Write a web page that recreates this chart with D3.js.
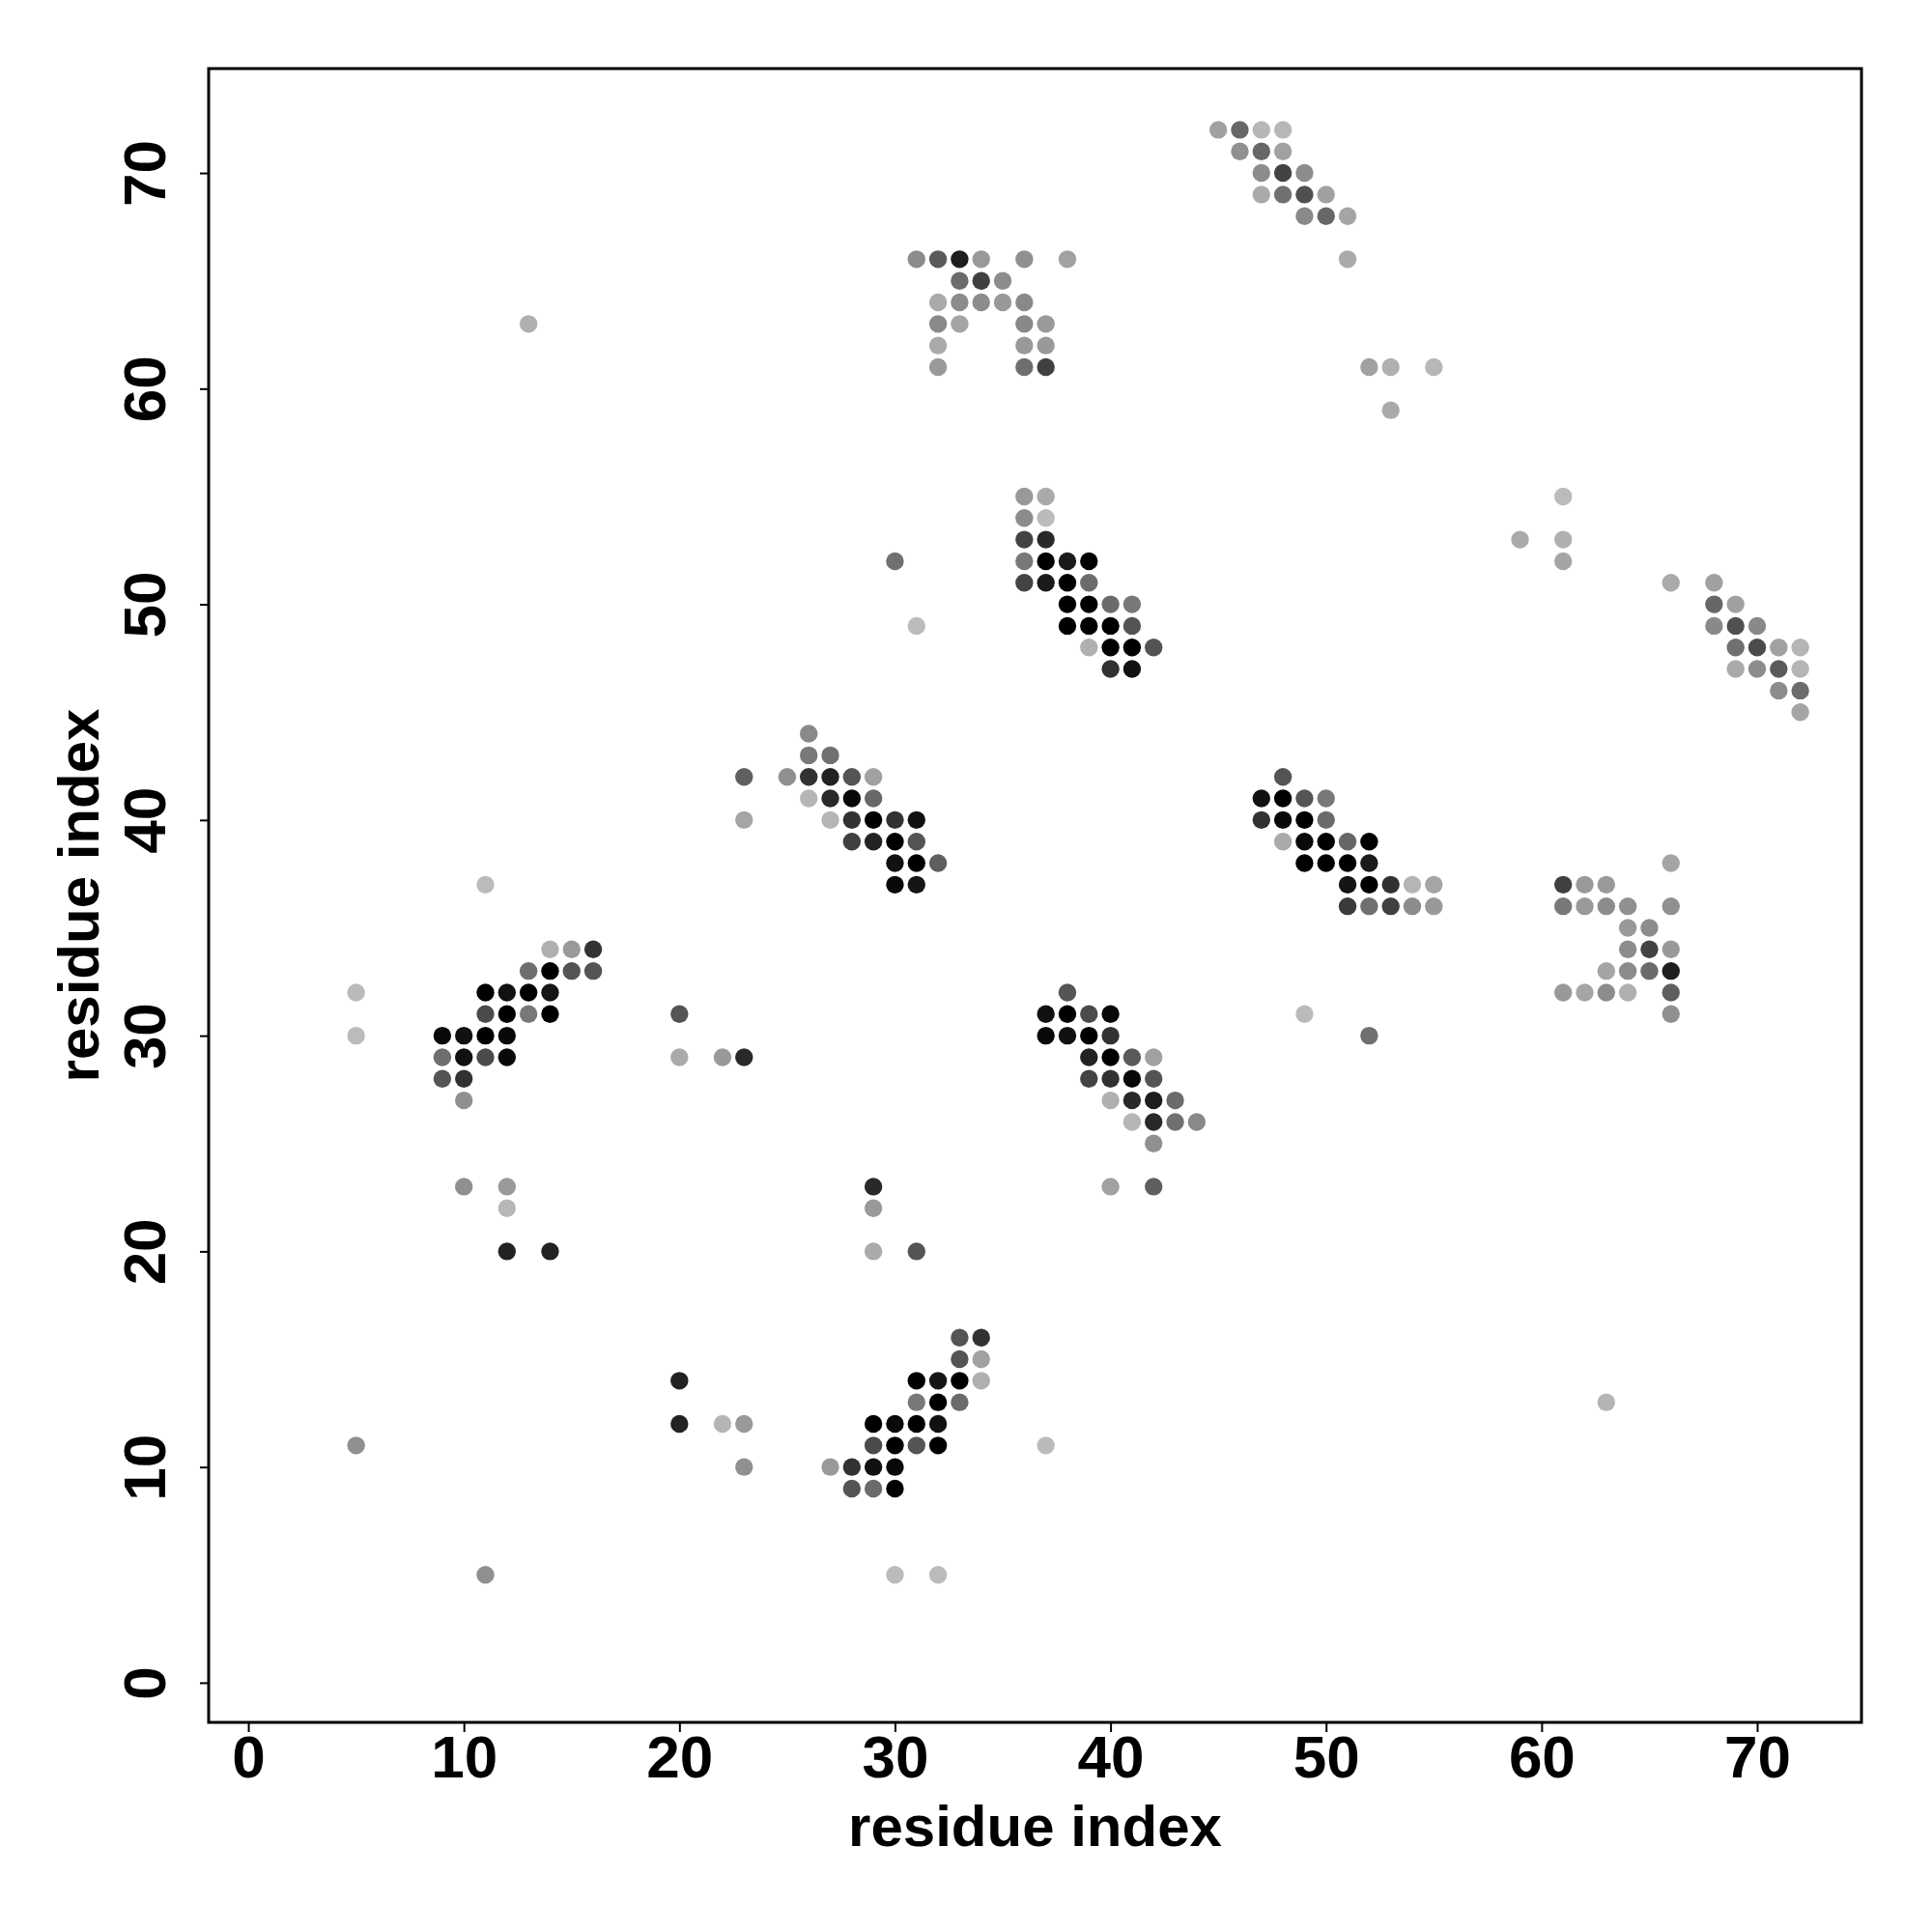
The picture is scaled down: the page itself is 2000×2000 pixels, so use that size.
<!DOCTYPE html>
<html>
<head>
<meta charset="utf-8">
<script src="https://cdn.jsdelivr.net/npm/d3@7"></script>
<style>
  html, body { margin: 0; padding: 0; background: #ffffff; }
  svg { display: block; }
  text { font-family: "Liberation Sans", Arial, Helvetica, sans-serif; font-weight: bold; fill: #000; }
</style>
</head>
<body>
<script>
// ---- Data: contacts as [residue i, residue j, contact score (0..1)] ----
const clusterTopRight = [
  [45,72,0.14],[46,72,0.45],[47,72,0.02],[48,72,0.02],
  [46,71,0.23],[47,71,0.45],[48,71,0.14],
  [47,70,0.25],[48,70,0.64],[49,70,0.25],
  [47,69,0.09],[48,69,0.40],[49,69,0.57],[50,69,0.14],
  [49,68,0.27],[50,68,0.45],[51,68,0.12],
  [51,66,0.09],
  [52,61,0.14],[53,61,0.06],[55,61,0.02],
  [53,59,0.09]
];
const clusterUpperMid = [
  [31,66,0.25],[32,66,0.52],[33,66,0.84],[34,66,0.18],[36,66,0.23],[38,66,0.14],
  [33,65,0.43],[34,65,0.66],[35,65,0.25],
  [32,64,0.09],[33,64,0.25],[34,64,0.25],[35,64,0.18],[36,64,0.27],
  [32,63,0.27],[33,63,0.12],[36,63,0.27],[37,63,0.18],
  [32,62,0.09],[36,62,0.18],[37,62,0.18],
  [32,61,0.18],[36,61,0.41],[37,61,0.66],
  [13,63,0.06]
];
const clusterMid50 = [
  [36,55,0.18],[37,55,0.09],
  [36,54,0.25],[37,54,0.00],
  [36,53,0.64],[37,53,0.78],
  [30,52,0.40],[36,52,0.36],[37,52,1.00],[38,52,0.86],[39,52,1.00],
  [36,51,0.64],[37,51,0.86],[38,51,1.00],[39,51,0.43],
  [38,50,1.00],[39,50,1.00],[40,50,0.43],[41,50,0.36],
  [31,49,0.00],[38,49,1.00],[39,49,1.00],[40,49,1.00],[41,49,0.55],
  [39,48,0.06],[40,48,1.00],[41,48,1.00],[42,48,0.55],
  [40,47,0.73],[41,47,0.91]
];
const clusterRight50 = [
  [61,55,0.00],[59,53,0.09],[61,53,0.06],[61,52,0.12],[66,51,0.09],[68,51,0.14],
  [68,50,0.45],[69,50,0.14],
  [68,49,0.27],[69,49,0.57],[70,49,0.27],
  [69,48,0.40],[70,48,0.60],[71,48,0.14],[72,48,0.03],
  [69,47,0.09],[70,47,0.25],[71,47,0.52],[72,47,0.03],
  [71,46,0.25],[72,46,0.43],
  [72,45,0.12]
];
const clusterMid40 = [
  [26,44,0.27],
  [26,43,0.36],[27,43,0.40],
  [23,42,0.49],[25,42,0.23],[26,42,0.73],[27,42,0.82],[28,42,0.55],[29,42,0.14],
  [26,41,0.03],[27,41,0.78],[28,41,0.95],[29,41,0.45],
  [23,40,0.12],[27,40,0.03],[28,40,0.73],[29,40,1.00],[30,40,0.73],[31,40,0.91],
  [28,39,0.66],[29,39,0.82],[30,39,1.00],[31,39,0.55],
  [30,38,0.91],[31,38,1.00],[32,38,0.49],
  [30,37,0.95],[31,37,0.89]
];
const clusterRight40 = [
  [48,42,0.55],
  [47,41,0.91],[48,41,1.00],[49,41,0.55],[50,41,0.36],
  [47,40,0.73],[48,40,0.95],[49,40,1.00],[50,40,0.43],
  [48,39,0.09],[49,39,0.95],[50,39,1.00],[51,39,0.45],[52,39,1.00],
  [49,38,1.00],[50,38,1.00],[51,38,1.00],[52,38,0.86],
  [51,37,0.89],[52,37,1.00],[53,37,0.74],[54,37,0.03],[55,37,0.12],
  [51,36,0.69],[52,36,0.40],[53,36,0.66],[54,36,0.25],[55,36,0.18]
];
const clusterFarRight35 = [
  [66,38,0.12],
  [61,37,0.66],[62,37,0.18],[63,37,0.18],
  [61,36,0.36],[62,36,0.18],[63,36,0.25],[64,36,0.23],[66,36,0.23],
  [64,35,0.18],[65,35,0.25],
  [64,34,0.25],[65,34,0.64],[66,34,0.18],
  [63,33,0.12],[64,33,0.25],[65,33,0.43],[66,33,0.84],
  [61,32,0.18],[62,32,0.12],[63,32,0.25],[64,32,0.06],[66,32,0.49],
  [66,31,0.23],
  [49,31,0.00],[52,30,0.40]
];
const clusterMid28 = [
  [38,32,0.55],
  [37,31,0.91],[38,31,1.00],[39,31,0.60],[40,31,0.95],
  [37,30,0.95],[38,30,0.91],[39,30,1.00],[40,30,0.73],
  [39,29,0.82],[40,29,1.00],[41,29,0.52],[42,29,0.14],
  [39,28,0.64],[40,28,0.73],[41,28,0.95],[42,28,0.55],
  [40,27,0.06],[41,27,0.78],[42,27,0.84],[43,27,0.43],
  [41,26,0.03],[42,26,0.78],[43,26,0.40],[44,26,0.27],
  [42,25,0.23],
  [40,23,0.14],[42,23,0.49]
];
const clusterLow12 = [
  [29,23,0.78],[29,22,0.18],[29,20,0.09],[31,20,0.55],
  [33,16,0.55],[34,16,0.73],
  [33,15,0.55],[34,15,0.14],
  [31,14,1.00],[32,14,0.89],[33,14,1.00],[34,14,0.06],
  [31,13,0.36],[32,13,1.00],[33,13,0.43],
  [29,12,1.00],[30,12,0.95],[31,12,1.00],[32,12,0.91],
  [29,11,0.60],[30,11,1.00],[31,11,0.55],[32,11,1.00],[37,11,0.00],
  [27,10,0.18],[28,10,0.73],[29,10,0.91],[30,10,0.95],
  [28,9,0.55],[29,9,0.43],[30,9,1.00],
  [30,5,0.00],[32,5,0.00]
];
const clusterLeft = [
  [10,23,0.23],[12,23,0.18],[12,22,0.02],[12,20,0.82],[14,20,0.82],
  [20,14,0.82],[20,12,0.82],[22,12,0.03],[23,12,0.18],[23,10,0.23],
  [5,11,0.23],[11,5,0.23],[63,13,0.03],
  [11,37,0.00],
  [14,34,0.06],[15,34,0.18],[16,34,0.73],
  [13,33,0.41],[14,33,1.00],[15,33,0.55],[16,33,0.55],
  [5,32,0.00],[11,32,1.00],[12,32,0.91],[13,32,1.00],[14,32,0.89],
  [11,31,0.60],[12,31,1.00],[13,31,0.36],[14,31,1.00],[20,31,0.55],
  [5,30,0.00],[9,30,0.95],[10,30,0.91],[11,30,1.00],[12,30,0.95],
  [9,29,0.41],[10,29,0.91],[11,29,0.60],[12,29,0.95],[20,29,0.09],[22,29,0.18],[23,29,0.78],
  [9,28,0.55],[10,28,0.73],
  [10,27,0.23]
];
const xTickValues = [0, 10, 20, 30, 40, 50, 60, 70];
const yTickValues = [0, 10, 20, 30, 40, 50, 60, 70];
const xAxisTitle = "residue index";
const yAxisTitle = "residue index";

const contacts = [].concat(
  clusterTopRight, clusterUpperMid, clusterMid50, clusterRight50,
  clusterMid40, clusterRight40, clusterFarRight35, clusterMid28,
  clusterLow12, clusterLeft
).map(d => ({ i: d[0], j: d[1], score: d[2] }));

// ---- Layout ----
const W = 2000, H = 2000;
const box = { left: 216, right: 1927, top: 71, bottom: 1783 };
const lo = 1, hi = 72, pad = 0.04 * (hi - lo);

const svg = d3.select("body").append("svg")
  .attr("width", W).attr("height", H)
  .attr("viewBox", `0 0 ${W} ${H}`);
svg.append("rect").attr("width", W).attr("height", H).attr("fill", "#ffffff");

const x = d3.scaleLinear().domain([lo - pad, hi + pad]).range([box.left, box.right]);
const y = d3.scaleLinear().domain([lo - pad, hi + pad]).range([box.bottom, box.top]);
const color = d3.scaleLinear().domain([0, 1]).range(["#bbbbbb", "#000000"]).interpolate(d3.interpolateRgb);

// points
svg.append("g")
  .selectAll("circle")
  .data(contacts)
  .join("circle")
  .attr("cx", d => x(d.i))
  .attr("cy", d => y(d.j))
  .attr("r", 9.2)
  .attr("fill", d => color(d.score));

// x axis
const gx = svg.append("g")
  .attr("transform", `translate(0,${box.bottom})`)
  .call(d3.axisBottom(x).tickValues(xTickValues).tickSize(10).tickFormat(d3.format("d")));
gx.select(".domain").remove();
gx.selectAll(".tick line").attr("stroke", "#000").attr("stroke-width", 2);
gx.selectAll(".tick text")
  .attr("y", 57).attr("dy", 0)
  .attr("font-size", 62)
  .attr("font-family", "Liberation Sans, Arial, sans-serif")
  .attr("font-weight", "bold")
  .attr("fill", "#000");

// y axis
const gy = svg.append("g")
  .attr("transform", `translate(${box.left},0)`)
  .call(d3.axisLeft(y).tickValues(yTickValues).tickSize(9).tickFormat(d3.format("d")));
gy.select(".domain").remove();
gy.selectAll(".tick line").attr("stroke", "#000").attr("stroke-width", 2);
gy.selectAll(".tick text")
  .attr("x", 0).attr("y", 0).attr("dy", 0)
  .attr("text-anchor", "middle")
  .attr("transform", `translate(${171 - box.left},0) rotate(-90)`)
  .attr("font-size", 62)
  .attr("font-family", "Liberation Sans, Arial, sans-serif")
  .attr("font-weight", "bold")
  .attr("fill", "#000");

// plot box
svg.append("rect")
  .attr("x", box.left).attr("y", box.top)
  .attr("width", box.right - box.left).attr("height", box.bottom - box.top)
  .attr("fill", "none").attr("stroke", "#000").attr("stroke-width", 3);

// axis titles
svg.append("text")
  .attr("x", (box.left + box.right) / 2).attr("y", 1911)
  .attr("text-anchor", "middle").attr("font-size", 60)
  .text(xAxisTitle);
svg.append("text")
  .attr("transform", `translate(102,${(box.top + box.bottom) / 2}) rotate(-90)`)
  .attr("text-anchor", "middle").attr("font-size", 60)
  .text(yAxisTitle);
</script>
</body>
</html>
